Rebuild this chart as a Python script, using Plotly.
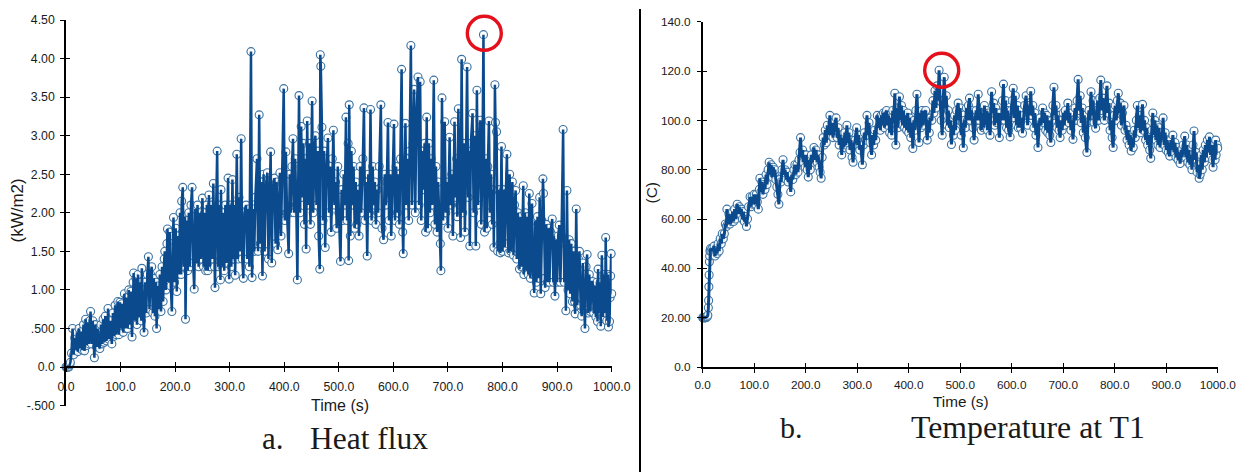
import plotly.graph_objects as go

W, H = 1244, 472

heat_time = [
0,1,2,3,4,5,6,7,8,10,
12,14,16,18,20,22,24,26,28,30,
32,34,36,38,40,42,44,45,47,49,
52,54,56,58,60,62,64,66,68,70,
72,74,76,77,79,81,84,86,88,90,
92,95,97,99,101,103,105,107,109,111,
113,115,117,119,121,123,124,126,128,130,
132,134,136,138,139,141,143,145,147,149,
151,153,155,157,159,161,163,165,166,168,
170,172,174,176,178,180,181,183,185,186,
188,190,192,194,196,197,199,201,203,205,
207,209,211,212,214,216,218,219,221,223,
225,227,229,231,233,235,237,239,241,243,
245,247,250,252,254,256,258,260,262,264,
266,268,270,272,273,275,277,279,281,283,
284,286,288,290,292,294,297,299,301,303,
305,307,309,310,313,315,317,319,321,323,
325,327,330,332,334,336,339,341,343,345,
347,350,352,354,356,358,360,362,364,366,
369,371,373,375,377,379,382,384,386,388,
390,392,394,396,399,401,403,405,408,410,
412,414,416,418,420,422,424,427,429,431,
433,435,437,439,440,442,444,446,448,451,
453,455,457,459,461,463,465,466,467,469,
471,473,475,477,480,482,484,486,488,490,
492,494,496,498,500,503,505,507,509,511,
513,515,517,518,519,521,523,525,527,529,
531,533,535,537,539,541,544,546,548,550,
552,554,556,558,560,562,564,566,568,570,
572,574,577,579,582,584,586,588,590,592,
594,596,598,601,603,605,607,609,611,613,
615,617,618,620,622,624,626,628,630,632,
634,636,638,640,642,645,647,649,651,653,
655,657,659,661,663,665,667,669,671,674,
676,678,680,682,684,686,687,689,691,694,
696,698,700,703,705,707,709,712,714,716,
717,719,721,723,725,727,729,731,733,735,
737,739,740,742,745,747,749,751,753,755,
757,759,761,763,765,767,769,771,773,775,
777,779,781,783,784,786,787,789,791,793,
795,796,798,800,802,804,806,808,810,811,
813,815,817,818,820,822,824,826,828,831,
833,835,838,839,841,843,845,847,849,851,
854,856,858,860,862,864,866,868,870,872,
874,875,877,878,880,882,884,886,888,891,
893,894,896,898,900,902,904,906,908,911,
913,915,916,918,920,922,924,926,928,930,
932,933,935,937,939,941,943,945,947,949,
951,953,955,957,959,961,963,965,967,969,
971,973,974,975,977,979,980,982,984,986,
988,989,991,993,994,996,997,998,999,1000,
]

heat_flux = [
0,0,0,0,0,0,.01,.03,.06,.18,
.50,.16,.38,.22,.45,.2,.5,.24,.46,.22,
.55,.21,.62,.28,.58,.3,.6,.72,.3,.6,
.12,.55,.26,.5,.28,.24,.55,.3,.62,.32,
.66,.34,.4,.76,.36,.6,.30,.7,.4,.8,
.42,.85,.42,.84,.5,.82,.45,.95,.5,.9,
.5,1.0,.55,.98,.39,1.1,1.22,.6,1.15,.55,
1.2,.65,1.1,.6,1.28,.7,.45,1.1,.7,1.2,
1.43,.75,1.2,1.3,.7,1.15,.66,1.1,.5,1.05,
.75,1.2,.72,1.3,.85,1.4,1.5,1.0,1.6,1.79,
1.1,1.75,1.05,.72,1.7,1.94,1.1,1.8,.98,1.7,
1.2,2.0,1.2,2.15,2.33,1.3,1.95,.62,1.9,1.25,
2.0,1.3,2.1,2.33,1.35,1.01,2.05,1.35,2.1,1.3,
2.0,1.4,2.19,1.3,2.0,1.25,2.1,1.25,2.23,1.3,
2.1,1.4,2.38,1.3,1.03,2.0,2.80,1.3,2.1,1.13,
2.30,1.3,2.0,1.25,2.1,1.35,2.45,1.14,2.1,1.3,
2.43,1.4,2.1,1.19,2.76,1.4,2.2,1.5,2.96,1.4,
1.15,2.0,2.10,1.4,2.05,1.3,4.09,1.16,2.05,1.5,
2.2,2.70,1.5,3.27,1.6,2.4,1.18,2.5,1.5,2.3,
2.52,1.4,2.4,2.79,1.35,2.3,2.45,1.6,2.4,1.52,
2.0,2.52,1.7,2.4,3.61,1.9,2.79,2.0,1.47,2.5,
2.0,2.6,2.96,2.0,2.7,2.1,1.13,3.52,2.0,3.12,
2.2,2.9,1.85,2.7,1.53,3.19,2.1,2.9,1.85,3.45,
2.0,2.7,3.0,2.1,2.8,1.7,1.27,4.05,3.90,3.11,
1.9,2.8,1.55,2.5,2.97,2.0,2.6,1.75,2.7,3.07,
2.1,2.4,1.8,2.6,2.0,1.37,2.3,1.9,2.5,2.1,
3.24,1.9,2.9,1.38,3.40,1.7,2.8,2.1,2.6,1.8,
2.4,1.85,2.3,1.7,2.6,2.0,2.7,3.36,1.9,2.4,
1.44,2.5,2.0,3.34,1.9,2.6,2.1,2.4,1.85,2.3,
2.0,2.6,3.40,1.8,1.65,2.5,2.1,2.4,3.17,1.9,
2.5,1.7,2.4,3.15,1.9,2.6,2.0,2.5,1.85,2.7,
3.86,1.75,1.47,2.4,3.16,2.1,2.7,1.9,2.8,4.17,
2.1,2.9,3.60,2.0,3.2,3.76,2.1,3.70,1.9,2.8,
2.3,2.9,1.75,3.24,1.8,2.9,2.0,2.7,2.1,3.72,
1.85,2.6,1.75,2.4,2.0,1.6,1.25,3.49,1.9,3.18,
2.0,2.4,1.8,2.98,2.1,2.5,1.7,3.18,2.2,2.7,
1.95,3.35,2.1,1.68,3.99,2.0,2.9,1.75,2.7,3.89,
2.2,2.8,1.57,2.9,3.29,2.0,3.0,1.57,3.59,2.1,
2.8,3.2,1.85,2.6,4.31,1.75,2.7,1.8,2.6,3.19,
2.0,2.5,1.85,2.3,1.55,3.66,3.17,3.05,1.5,2.3,
1.6,1.48,2.86,1.5,2.3,1.55,2.25,2.76,1.6,1.48,
2.5,1.5,2.1,2.4,1.45,2.1,2.29,1.4,2.0,1.27,
1.95,1.3,2.35,1.2,2.0,1.25,1.95,1.2,2.25,1.15,
2.12,1.2,.96,1.9,1.1,1.95,1.15,2.2,.95,1.9,
2.44,2.25,1.15,1.03,1.85,1.1,1.8,1.1,1.75,1.92,
1.1,1.7,.92,1.65,1.1,1.7,1.84,1.1,1.7,3.08,
1.1,1.6,.73,2.29,1.0,1.65,.95,1.6,.85,1.5,
.85,.69,2.05,.8,1.4,1.5,.8,.66,1.35,.75,
.50,1.3,1.46,.7,1.2,.72,1.1,1.11,.7,1.05,
.65,1.1,.59,1.27,.7,1.1,.53,1.45,.65,1.2,
.7,1.68,.6,1.2,.52,.59,.9,1.18,1.47,.95,
]

temp_time = [
0,1,2,3,4,5,6,7,8,9,
10,11,11.5,12,12.5,13,13.5,14,15,16,
18,20,22,24,26,28,30,32,34,36,
38,40,42,44,46,47,49,51,53,56,
58,60,62,64,67,69,71,73,75,77,
79,81,83,85,87,89,92,94,96,98,
100,102,104,106,108,110,111,113,115,117,
119,121,123,125,127,129,131,133,135,137,
139,140,142,144,146,148,150,152,154,156,
158,160,162,164,166,168,171,173,175,177,
179,181,183,185,187,189,190,192,194,195,
197,199,201,203,205,207,209,211,213,216,
218,220,222,224,226,228,230,232,234,236,
238,240,242,244,247,249,251,253,255,259,
261,263,265,267,270,272,274,276,278,280,
282,284,286,288,290,292,294,296,299,301,
303,305,307,310,312,314,316,319,321,323,
325,328,330,332,334,336,339,341,343,345,
347,349,351,353,355,357,359,361,363,365,
367,369,371,373,375,377,379,382,384,386,
388,390,392,394,396,398,400,402,404,406,
408,410,412,414,416,418,420,422,424,426,
428,430,433,436,438,440,442,445,447,449,
451,453,455,457,459,461,463,465,467,469,
471,473,475,477,479,481,483,485,487,489,
491,493,496,498,500,502,504,506,508,510,
512,514,516,518,520,522,525,527,529,531,
533,535,537,539,541,543,545,547,549,551,
553,555,558,561,563,565,567,569,571,573,
576,578,580,582,584,586,588,590,592,594,
597,599,601,603,605,607,609,611,613,615,
617,619,621,623,625,628,630,631,633,635,
637,639,641,643,645,647,649,651,653,655,
657,660,662,664,666,668,670,672,674,676,
678,680,682,684,686,688,690,692,694,696,
698,700,702,704,706,709,711,713,715,717,
719,721,723,725,727,729,731,733,735,737,
739,741,743,746,748,750,752,754,756,758,
760,763,765,767,769,771,773,775,777,780,
782,785,787,789,791,793,795,797,799,801,
803,805,807,809,811,813,815,818,820,822,
824,826,828,830,832,834,836,838,840,842,
844,846,848,850,852,854,856,858,860,862,
864,866,868,870,872,874,876,878,880,882,
884,886,888,890,892,894,896,898,900,902,
904,907,909,911,913,915,917,919,921,923,
925,927,929,931,933,936,938,940,942,944,
946,948,950,952,954,956,958,960,962,964,
966,968,970,972,974,976,978,980,982,984,
986,988,990,991,993,995,996,997,999,1000,
]

temp_c = [
20,20,20,20,20,20,20,20.2,20.3,20.5,
21,24,27,32.5,37.3,42.7,45,47,48,47,
48,47,49,45,48,46,50,47,52,50,
54,52,54,58,57,64,58,62,58,59,
63,59,64,60,66,62,65,62,64,60,
63,59,61,57,60,65,69,65,69,66,
70,66,70,67,64,72,76.5,71,75,70,
74,72,78,74,80,83,78,82,77,81,
78,80,76,73,70,66,76,75,80,84,
78,80,76,79,75,77,71,78,76,80,
82,78,82,79,84,87,93,85,88,83,
86,81,86,80,77,84,80,86,83,89,
84,88,83,86,81,79,76.5,85,93,90,
96,91,98,94,102,94,99,93,97,101,
93,97,90,94,86,93,89,95,90,98,
91,95,88,92,85,83,90,92,97,90,
94,88,90,82,90,95,92,102,94,99,
91,86,94,90,96,92,102,97,101,96,
102,98,103,97,103,104,98,102,95,101,
94,104,99,111,90,105,97,109.6,100,106,
98,104,97,102,96,103,95,101,93,99,
88.6,100,96,104,110.6,100,91,103,97,104,
98,103,104,92,100,95,101,100,108,103,
112,105,114,108,120.3,108,100,94,108,117.5,
105,110,98,104,97,100,90.2,98,94,102,
96,104,107,100,105,94,99,88.9,100,97,
105,100,106,109,100,104,97,92,100,104,
100,110.6,100,105,96,103,97,106,98,104,
96,103,94,111.6,103,107,98,105,99,103,
93,103,100,108,114.7,100,108,97,104,96,
93.3,104,108,113,101,110,98,106,97,104,
97,101,94.8,102,106,110,104,98,106,102,
111.8,102,106,97,103,94,99,89,98,101,
98,105,99,103,96,102,95,100,94,91,
100,106,113.4,102,106,97,102,96,93,100,
96,103,98,104,100,107,99,103,96,100,
92.3,100,105,100,108,116.6,104,110,99,105,
95,102,93,87,99,104,100,111.6,102,108,
99,96.8,104,108,100,109,116.3,104,109,100,
106,114,103,107,96,100,93,89,102,106,
100,108,111,103,107,98,103,106,96,98,
92,96,90,94,87.6,93,89,96,93,100,
106,97,102,95,100,106.5,96,100,92,97,
90,94,88,84.6,96,103,94,100,92,98,
90,97,89,95,92,101,90,95,88,92,
87,85.5,92,88,94,87,91,85,89,84,
87,82.5,88,85,90,93.6,85,90,83,88,
82,86,80,90,95.7,84,87,79,82,76.5,
78,86,80,88,83,90,85,92,87,93.3,
86,90,84,81,90,84,92,86,90,88.7,
]

assert len(heat_time) == len(heat_flux)
assert len(temp_time) == len(temp_c)

time_ticks = [0, 100, 200, 300, 400, 500, 600, 700, 800, 900, 1000]
time_labels = ["0.0", "100.0", "200.0", "300.0", "400.0", "500.0", "600.0", "700.0", "800.0", "900.0", "1000.0"]
heat_ticks = [-0.5, 0, 0.5, 1, 1.5, 2, 2.5, 3, 3.5, 4, 4.5]
heat_labels = ["-.500", "0.0", ".500", "1.00", "1.50", "2.00", "2.50", "3.00", "3.50", "4.00", "4.50"]
temp_ticks = [0, 20, 40, 60, 80, 100, 120, 140]
temp_labels = ["0.0", "20.00", "40.00", "60.00", "80.00", "100.0", "120.0", "140.0"]

LINE = "#0b4a8c"
RING = "#3a72a3"
RED = "#e4111c"
SANS = "Liberation Sans, Arial, sans-serif"
SERIF = "Liberation Serif, Times New Roman, serif"
INK = "#1a1a1a"

fig = go.Figure()

def add_pair(t, v, xa, ya, xa2, ya2, lw, ring_w):
    fig.add_trace(go.Scatter(x=t, y=v, mode="markers", xaxis=xa, yaxis=ya, cliponaxis=False,
                             marker=dict(symbol="circle", size=8, color="rgba(255,255,255,0.85)",
                                         line=dict(color=RING, width=ring_w)), showlegend=False))
    fig.add_trace(go.Scatter(x=t, y=v, mode="lines", xaxis=xa2, yaxis=ya2, cliponaxis=False,
                             line=dict(color=LINE, width=lw), showlegend=False))

add_pair(heat_time, heat_flux, "x", "y", "x3", "y3", 2.5, 1.1)
add_pair(temp_time, temp_c, "x2", "y2", "x4", "y4", 3, 1.1)

def px_x(p): return p / W
def px_y(p): return 1 - p / H

def common(size):
    return dict(showgrid=False, zeroline=False, showline=True, linecolor="black", linewidth=1.6,
                tickcolor="black", tickwidth=1.3, ticklen=4, tickmode="array", automargin=False,
                tickfont=dict(family=SANS, size=size, color=INK))

A_L, A_R, A_T, A_B, A_0 = 66, 611.7, 20, 405.6, 367
B_L, B_R, B_T, B_B = 702.7, 1217.7, 21.7, 367

fig.update_layout(
    width=W, height=H, margin=dict(l=0, r=0, t=0, b=0),
    paper_bgcolor="white", plot_bgcolor="rgba(0,0,0,0)", showlegend=False,
    xaxis=dict(**common(12.3), domain=[px_x(A_L), px_x(A_R)], range=[0, 1000], anchor="free",
               position=px_y(A_0), tickvals=time_ticks, ticktext=time_labels, ticks="outside",
               ticklabelstandoff=4),
    yaxis=dict(**common(12.3), domain=[px_y(A_B), px_y(A_T)], range=[-0.5, 4.5], anchor="x",
               tickvals=heat_ticks, ticktext=heat_labels, ticks="outside", ticklabelstandoff=3),
    xaxis3=dict(**common(12.3), domain=[px_x(A_L), px_x(A_R)], range=[0, 1000], anchor="free",
                position=px_y(A_0), overlaying="x", tickvals=time_ticks, ticks="inside", showticklabels=False),
    yaxis3=dict(**common(12.3), domain=[px_y(A_B), px_y(A_T)], range=[-0.5, 4.5], anchor="x3",
                overlaying="y", tickvals=heat_ticks, ticks="inside", showticklabels=False),
    xaxis2=dict(**common(11.8), domain=[px_x(B_L), px_x(B_R)], range=[0, 1000], anchor="y2",
                tickvals=time_ticks, ticktext=time_labels, ticks="outside", ticklabelstandoff=2),
    yaxis2=dict(**common(11.8), domain=[px_y(B_B), px_y(B_T)], range=[0, 140], anchor="x2",
                tickvals=temp_ticks, ticktext=temp_labels, ticks="outside", ticklabelstandoff=4),
    xaxis4=dict(**common(11.8), domain=[px_x(B_L), px_x(B_R)], range=[0, 1000], anchor="y4",
                overlaying="x2", tickvals=time_ticks, ticks="inside", showticklabels=False),
    yaxis4=dict(**common(11.8), domain=[px_y(B_B), px_y(B_T)], range=[0, 140], anchor="x4",
                overlaying="y2", tickvals=temp_ticks, ticks="inside", showticklabels=False),
)

def text(s, x, y, size, family=SANS, angle=0, anchor="center"):
    fig.add_annotation(text=s, xref="paper", yref="paper", x=px_x(x), y=px_y(y), showarrow=False,
                       textangle=angle, xanchor=anchor, yanchor="middle",
                       font=dict(family=family, size=size, color=INK))

text("Time (s)", 339.5, 405, 16)
text("Time (s)", 961, 401, 15.3)
text("(kW/m2)", 17, 210.5, 17, angle=-90)
text("(C)", 651, 192.5, 15.5, angle=-90)
text("a.", 260, 438, 31, SERIF, anchor="left")
text("Heat flux", 308, 438, 31.5, SERIF, anchor="left")
text("b.", 778, 427, 30, SERIF, anchor="left")
text("Temperature at T1", 909, 427, 31.8, SERIF, anchor="left")

# red highlight rings around the peak of each series (paper coordinates: ring overhangs the plot area)
def ring(cx, cy, r=17):
    fig.add_shape(type="circle", xref="paper", yref="paper",
                  x0=px_x(cx - r), x1=px_x(cx + r), y0=px_y(cy + r), y1=px_y(cy - r),
                  line=dict(color=RED, width=3.4))

ring(484.3, 33.3)
ring(941.7, 70.3)
# panel divider
fig.add_shape(type="line", xref="paper", yref="paper", x0=px_x(640), x1=px_x(640), y0=0, y1=px_y(9),
              line=dict(color="black", width=2))

fig.write_html("out.html", config={"displayModeBar": False},
               post_script="document.body.style.margin='0';document.documentElement.style.overflow='hidden';")
